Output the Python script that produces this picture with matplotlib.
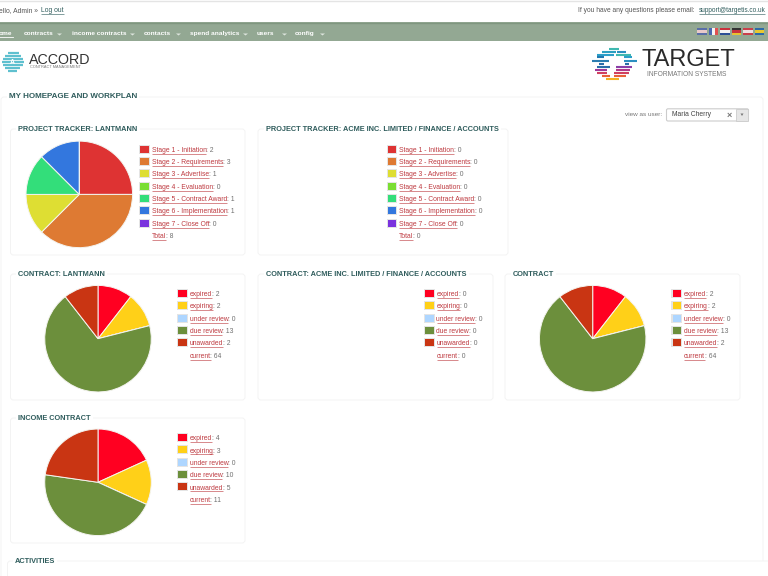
import matplotlib
matplotlib.use("Agg")
import matplotlib.pyplot as plt
from matplotlib.patches import FancyBboxPatch, Rectangle, Polygon

plt.rcParams['font.family'] = ['Liberation Sans', 'DejaVu Sans']

# ---------- data ----------
stage_labels = ["Stage 1 - Initiation", "Stage 2 - Requirements", "Stage 3 - Advertise", "Stage 4 - Evaluation",
                "Stage 5 - Contract Award", "Stage 6 - Implementation", "Stage 7 - Close Off"]
stage_colors = ["#DE3333", "#DE7A33", "#DEDE33", "#7ADE33", "#33DE7A", "#3377DE", "#7A33DE"]
tracker_lantmann = [2, 3, 1, 0, 1, 1, 0]
tracker_acme = [0, 0, 0, 0, 0, 0, 0]

contract_labels = ["expired", "expiring", "under review", "due review", "unawarded"]
contract_colors = ["#FF0021", "#FFD018", "#AED6FF", "#6C8F3C", "#C93513"]
contract_lantmann = [2, 2, 0, 13, 2]
contract_lantmann_current = 64
contract_acme = [0, 0, 0, 0, 0]
contract_acme_current = 0
contract_all = [2, 2, 0, 13, 2]
contract_all_current = 64
income = [4, 3, 0, 10, 5]
income_current = 11

nav_items = ["ome", "contracts", "income contracts", "contacts", "spend analytics", "users", "config"]
nav_x = [-1, 24, 72, 144, 190, 257, 295]
nav_arrow = [None, 57, 130, 176, 243, 282, 320]

W, H = 768, 576
fig = plt.figure(figsize=(W / 100, H / 100), dpi=100, facecolor="white")
ax = fig.add_axes([0, 0, 1, 1])
ax.set_xlim(0, W)
ax.set_ylim(H, 0)
ax.axis("off")

TITLE = "#2F5C5C"
LINK = "#BE3A40"
GREY = "#707070"
PX = 0.72  # px to pt at dpi 100


def underlined(x, y, s, size=6.8, color=LINK):
    t = ax.text(x, y, s, fontsize=size * PX, color=color, va="center", ha="left")
    bb = t.get_window_extent(fig.canvas.get_renderer())
    ax.plot([x, x + bb.width], [y + 3.4, y + 3.4], color=color, lw=0.6, alpha=0.7, solid_capstyle="butt")
    return x + bb.width


def panel(x0, y0, x1, y1, title=None, tx=None):
    ax.add_patch(FancyBboxPatch((x0 + 3, y0 + 3), x1 - x0 - 6, y1 - y0 - 6, boxstyle="round,pad=3,rounding_size=3",
                                fc="white", ec="#F3F3F3", lw=0.7, zorder=1))
    if title:
        ax.text(tx, y0 + 0.7, title, fontsize=7.33 * PX, fontweight="bold", color=TITLE, va="center", ha="left", zorder=3,
                bbox=dict(fc="white", ec="none", pad=1.5))


def pie(cx, cy, r, values, colors):
    a = fig.add_axes([(cx - r) / W, 1 - (cy + r) / H, 2 * r / W, 2 * r / H], zorder=5)
    a.pie(values, colors=colors, startangle=90, counterclock=False, radius=1,
          wedgeprops=dict(edgecolor="#F4F4F0", linewidth=0.7))
    a.set_xlim(-1.01, 1.01)
    a.set_ylim(-1.01, 1.01)
    a.set_aspect("equal")


def legend(sx, y0, labels, colors, values, extra_label, extra_value, step=12.33):
    for i, (l, c, v) in enumerate(zip(labels, colors, values)):
        y = y0 + i * step
        ax.add_patch(Rectangle((sx - 1, y - 5.7), 10.9, 9, fc="#E4E4E4", ec="none", zorder=3))
        ax.add_patch(Rectangle((sx + 0.3, y - 4.7), 8.4, 7, fc=c, ec="none", zorder=4))
        end = underlined(sx + 11.5, y, l)
        ax.text(end, y, f": {v}", fontsize=6.8 * PX, color=GREY, va="center", ha="left")
    y = y0 + len(labels) * step
    end = underlined(sx + 11.5, y, extra_label)
    ax.text(end, y, f": {extra_value}", fontsize=6.8 * PX, color=GREY, va="center", ha="left")


# ---------- page header ----------
ax.plot([0, W], [0.5, 0.5], color="#E4E4E4", lw=1)
ax.text(-1, 10.5, "ello, Admin »", fontsize=6.8 * PX, color="#555555", va="center")
underlined(41.3, 10.5, "Log out", size=6.8, color="#2F5C5C")
ax.text(578, 10.5, "If you have any questions please email:", fontsize=6.6 * PX, color="#555555", va="center")
underlined(698.5, 10.5, "support@targetis.co.uk", size=6.55, color="#2F5C5C")

ax.add_patch(Rectangle((0, 22), W, 19, fc="#93A893", ec="none"))
ax.plot([0, W], [22.5, 22.5], color="#7F967F", lw=1)
for s, x, ar in zip(nav_items, nav_x, nav_arrow):
    ax.text(x, 33.6, s, fontsize=6.5 * PX, fontweight="bold", color="white", va="center", ha="left")
    if ar is not None:
        ax.add_patch(Polygon([(ar, 33.5), (ar + 5, 33.5), (ar + 2.5, 35.5)], fc="#DDE5DD", ec="none"))
ax.plot([-1, 13], [37, 37], color="white", lw=0.6)

# flags
flags = [(697, ["#5A6FA8", "#E9C9C9", "#5A6FA8"]), (708.5, ["#4A66B0", "#F4F4F4", "#E05050"]),
         (720, ["#C8323C", "#F4F4F4", "#2C4F96"]), (731.5, ["#333333", "#C8323C", "#E8C030"]),
         (743, ["#C8404A", "#F0E0E0", "#C8404A"]), (754.5, ["#2C6AA8", "#E8C830", "#2C6AA8"])]
for fx, cols in flags:
    if fx == 708.5:
        for j, c in enumerate(cols):
            ax.add_patch(Rectangle((fx + j * 3.2, 28), 3.2, 7, fc=c, ec="none"))
    else:
        for j, c in enumerate(cols):
            ax.add_patch(Rectangle((fx, 28 + j * 2.33), 9.6, 2.33, fc=c, ec="none"))

# Accord logo
for dy, x0, x1 in [(53, 8, 19), (56, 5, 21), (59, 3, 23), (62, 2, 24), (65, 3, 23), (68, 5, 20), (70.5, 8, 17)]:
    ax.plot([x0, x1], [dy, dy], color="#5FC0CF", lw=1.6, solid_capstyle="butt")
ax.text(12.5, 62, "A", fontsize=7 * PX, fontweight="bold", color="white", ha="center", va="center")
ax.text(29, 59.8, "ACCORD", fontsize=14.2 * PX, color="#333333", va="center", ha="left")
ax.text(29.5, 67.5, "CONTRACT MANAGEMENT", fontsize=3.9 * PX, color="#777777", va="center", ha="left")

# Target logo
target_bars = [(48.7, 609, 619, "#3FB8B0"), (51.7, 602, 616, "#2B9FC0"), (51.7, 617, 626, "#2B8FC0"),
               (54.7, 597, 614, "#2B9FC8"), (54.7, 616, 631, "#3FB8B0"), (57.3, 597, 604, "#1F78B0"),
               (57.3, 624, 632, "#2B9FC8"), (60.7, 592, 609, "#2B7CB0"), (60.7, 624, 637, "#2B8FC0"),
               (63.7, 599, 604, "#2B6CA8"), (63.7, 625, 629, "#2B6CA8"), (66.7, 597, 610, "#2B6CA8"),
               (66.7, 616, 632, "#8A3FA8"), (70, 595, 607, "#A03898"), (70, 616, 630, "#B03888"),
               (72.7, 597, 607, "#D04060"), (72.7, 614, 629, "#D04060"), (75.7, 602, 610, "#E8603A"),
               (75.7, 614, 626, "#E8603A"), (79.3, 606, 619, "#F4B020")]
for y, x0, x1, c in target_bars:
    ax.plot([x0, x1], [y, y], color=c, lw=1.5, solid_capstyle="butt")
ax.text(641, 60.5, "TARGET", fontsize=23.6 * PX, color="#2A2A2A", va="center", ha="left")
ax.text(647, 74, "INFORMATION SYSTEMS", fontsize=6.6 * PX, color="#777777", va="center", ha="left")

# ---------- main panel ----------
ax.add_patch(FancyBboxPatch((4, 100), 756, 490, boxstyle="round,pad=3,rounding_size=3", fc="white", ec="#F3F3F3", lw=0.7, zorder=0.5))
ax.text(9, 96.5, "MY HOMEPAGE AND WORKPLAN", fontsize=8.05 * PX, fontweight="bold", color=TITLE, va="center", ha="left",
        zorder=3, bbox=dict(fc="white", ec="none", pad=1.5))

# view as user
ax.text(624.7, 114, "view as user:", fontsize=6.4 * PX, color="#777777", va="center")
ax.add_patch(FancyBboxPatch((667, 109.3), 81, 11.2, boxstyle="round,pad=0.5,rounding_size=1.5", fc="white", ec="#CCCCCC", lw=0.8, zorder=2))
ax.add_patch(Rectangle((736, 108.8), 12, 12.2, fc="#E6E6E6", ec="#CCCCCC", lw=0.6, zorder=3))
ax.text(671.5, 115, "Maria Cherry", fontsize=6.8 * PX, color="#444444", va="center", zorder=4)
ax.text(729, 115, "×", fontsize=9 * PX, fontweight="bold", color="#777777", va="center", ha="center", zorder=4)
ax.add_patch(Polygon([(740.5, 113.5), (743.5, 113.5), (742, 116)], fc="#777777", ec="none", zorder=4))

# ---------- panels ----------
panel(10.5, 129, 245, 255, "PROJECT TRACKER: LANTMANN", 18.5)
panel(258, 129, 508, 255, "PROJECT TRACKER: ACME INC. LIMITED / FINANCE / ACCOUNTS", 266)
panel(10.5, 274, 245, 400, "CONTRACT: LANTMANN", 18.5)
panel(258, 274, 493, 400, "CONTRACT: ACME INC. LIMITED / FINANCE / ACCOUNTS", 266)
panel(505, 274, 740, 400, "CONTRACT", 513)
panel(10.5, 418, 245, 543, "INCOME CONTRACT", 18.5)
panel(7.5, 561, 790, 600, "ACTIVITIES", 15)

pie(79.3, 194.4, 53.8, tracker_lantmann, stage_colors)
pie(98, 338.7, 53.8, contract_lantmann, contract_colors)
pie(592.7, 338.7, 53.8, contract_all, contract_colors)
pie(98, 482.3, 53.8, income, contract_colors)

legend(140, 150.3, stage_labels, stage_colors, tracker_lantmann, "Total", sum(tracker_lantmann))
legend(387.5, 150.3, stage_labels, stage_colors, tracker_acme, "Total", sum(tracker_acme))
legend(178, 294.6, contract_labels, contract_colors, contract_lantmann, "current", contract_lantmann_current)
legend(425, 294.6, contract_labels, contract_colors, contract_acme, "current", contract_acme_current)
legend(672.3, 294.6, contract_labels, contract_colors, contract_all, "current", contract_all_current)
legend(178, 438.7, contract_labels, contract_colors, income, "current", income_current)

fig.savefig("out.png", dpi=100, facecolor="white")
